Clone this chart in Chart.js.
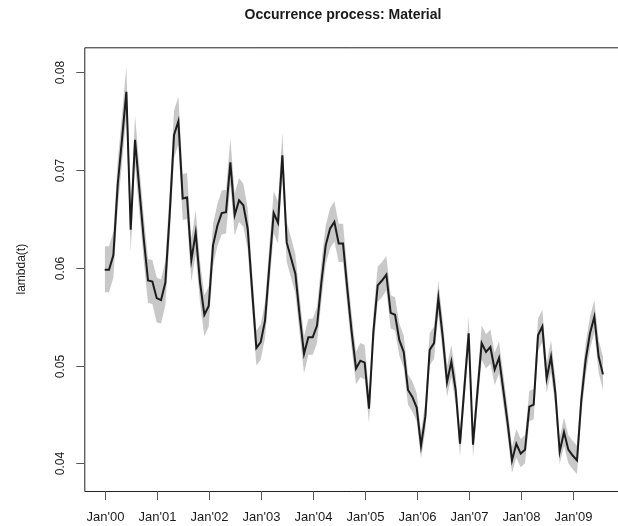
<!DOCTYPE html>
<html>
<head>
<meta charset="utf-8">
<script src="https://cdn.jsdelivr.net/npm/chart.js@4"></script>
<style>
  html, body { margin: 0; padding: 0; background: #fff; overflow: hidden; }
  #wrap { width: 618px; height: 526px; }
</style>
</head>
<body>
<div id="wrap"><canvas id="chart" width="618" height="526"></canvas></div>
<script>
// monthly intensity estimate, Jan 2000 .. Aug 2009
const lambdaMean = [
  0.0598, 0.0598, 0.0613, 0.0685, 0.0732, 0.0780, 0.0639, 0.0731, 0.0680, 0.0630, 0.0587, 0.0586,
  0.0569, 0.0567, 0.0585, 0.0655, 0.0736, 0.0750, 0.0671, 0.0672, 0.0608, 0.0636, 0.0585, 0.0552,
  0.0561, 0.0623, 0.0643, 0.0656, 0.0657, 0.0708, 0.0654, 0.0669, 0.0664, 0.0640, 0.0578, 0.0518,
  0.0524, 0.0546, 0.0602, 0.0656, 0.0646, 0.0715, 0.0626, 0.0610, 0.0594, 0.0551, 0.0512, 0.0529,
  0.0529, 0.0541, 0.0585, 0.0623, 0.0640, 0.0647, 0.0625, 0.0625, 0.0578, 0.0534, 0.0497, 0.0505,
  0.0503, 0.0456, 0.0534, 0.0582, 0.0587, 0.0593, 0.0554, 0.0552, 0.0526, 0.0514, 0.0475, 0.0468,
  0.0457, 0.0418, 0.0448, 0.0516, 0.0523, 0.0569, 0.0530, 0.0483, 0.0504, 0.0475, 0.0420, 0.0477,
  0.0533, 0.0419, 0.0472, 0.0523, 0.0514, 0.0519, 0.0496, 0.0508, 0.0475, 0.0441, 0.0403, 0.0420,
  0.0410, 0.0414, 0.0458, 0.0460, 0.0531, 0.0540, 0.0487, 0.0509, 0.0472, 0.0412, 0.0432, 0.0414,
  0.0408, 0.0403, 0.0465, 0.0506, 0.0533, 0.0550, 0.0509, 0.0491
];

// pointwise band around the estimate
const lambdaUpper = [
  0.0622, 0.0622, 0.0637, 0.0709, 0.0757, 0.0806, 0.0661, 0.0756, 0.0704, 0.0653, 0.0609, 0.0608,
  0.0590, 0.0588, 0.0607, 0.0679, 0.0761, 0.0775, 0.0696, 0.0697, 0.0630, 0.0659, 0.0606, 0.0572,
  0.0581, 0.0645, 0.0665, 0.0679, 0.0680, 0.0732, 0.0676, 0.0692, 0.0686, 0.0661, 0.0598, 0.0536,
  0.0542, 0.0565, 0.0623, 0.0678, 0.0668, 0.0738, 0.0647, 0.0631, 0.0614, 0.0570, 0.0530, 0.0548,
  0.0548, 0.0560, 0.0605, 0.0643, 0.0661, 0.0668, 0.0645, 0.0645, 0.0597, 0.0552, 0.0514, 0.0523,
  0.0521, 0.0472, 0.0552, 0.0601, 0.0606, 0.0612, 0.0572, 0.0570, 0.0543, 0.0531, 0.0491, 0.0484,
  0.0472, 0.0432, 0.0463, 0.0533, 0.0540, 0.0587, 0.0547, 0.0499, 0.0521, 0.0491, 0.0434, 0.0493,
  0.0550, 0.0433, 0.0488, 0.0541, 0.0532, 0.0537, 0.0513, 0.0525, 0.0491, 0.0456, 0.0417, 0.0435,
  0.0425, 0.0429, 0.0474, 0.0476, 0.0548, 0.0557, 0.0503, 0.0526, 0.0488, 0.0426, 0.0447, 0.0429,
  0.0423, 0.0418, 0.0481, 0.0523, 0.0550, 0.0567, 0.0526, 0.0509
];

const lambdaLower = [
  0.0575, 0.0575, 0.0590, 0.0661, 0.0707, 0.0754, 0.0616, 0.0706, 0.0656, 0.0607, 0.0564, 0.0563,
  0.0544, 0.0543, 0.0562, 0.0631, 0.0712, 0.0726, 0.0649, 0.0650, 0.0586, 0.0614, 0.0564, 0.0530,
  0.0540, 0.0602, 0.0622, 0.0634, 0.0635, 0.0685, 0.0633, 0.0647, 0.0642, 0.0619, 0.0559, 0.0500,
  0.0506, 0.0528, 0.0582, 0.0635, 0.0625, 0.0693, 0.0606, 0.0590, 0.0574, 0.0532, 0.0492, 0.0511,
  0.0511, 0.0523, 0.0566, 0.0604, 0.0620, 0.0627, 0.0606, 0.0606, 0.0560, 0.0517, 0.0481, 0.0488,
  0.0486, 0.0441, 0.0517, 0.0565, 0.0570, 0.0577, 0.0538, 0.0536, 0.0510, 0.0498, 0.0460, 0.0453,
  0.0443, 0.0405, 0.0434, 0.0500, 0.0507, 0.0552, 0.0514, 0.0468, 0.0488, 0.0460, 0.0407, 0.0462,
  0.0517, 0.0406, 0.0457, 0.0506, 0.0497, 0.0502, 0.0480, 0.0492, 0.0460, 0.0427, 0.0390, 0.0406,
  0.0396, 0.0400, 0.0443, 0.0445, 0.0515, 0.0524, 0.0472, 0.0493, 0.0457, 0.0399, 0.0418, 0.0400,
  0.0394, 0.0389, 0.0450, 0.0490, 0.0517, 0.0534, 0.0493, 0.0475
];

const tickMonths = [0, 12, 24, 36, 48, 60, 72, 84, 96, 108];
const tickLabels = ["Jan'00", "Jan'01", "Jan'02", "Jan'03", "Jan'04", "Jan'05", "Jan'06", "Jan'07", "Jan'08", "Jan'09"];
const yTicks = [0.04, 0.05, 0.06, 0.07, 0.08];

const FONT = '"Liberation Sans", Arial, Helvetica, sans-serif';

function toPoints(arr) {
  return arr.map((v, i) => ({ x: i, y: v }));
}

// R-style frame: box, outside ticks, rotated y labels, titles
const rAxes = {
  id: 'rAxes',
  afterDraw(chart) {
    const { ctx, chartArea: a, scales } = chart;
    const xs = scales.x, ys = scales.y;
    ctx.save();

    ctx.strokeStyle = '#222';
    ctx.lineWidth = 1;
    ctx.beginPath();
    ctx.moveTo(a.right + 10, a.top + 0.5);
    ctx.lineTo(a.left + 0.5, a.top + 0.5);
    ctx.lineTo(a.left + 0.5, a.bottom + 0.5);
    ctx.lineTo(a.right + 10, a.bottom + 0.5);
    ctx.stroke();

    ctx.fillStyle = '#1a1a1a';

    // x axis
    ctx.font = '13px ' + FONT;
    ctx.textAlign = 'center';
    ctx.textBaseline = 'middle';
    tickMonths.forEach((m, k) => {
      const px = Math.round(xs.getPixelForValue(m)) + 0.5;
      ctx.strokeStyle = '#555';
      ctx.beginPath();
      ctx.moveTo(px, a.bottom);
      ctx.lineTo(px, a.bottom + 9);
      ctx.stroke();
      ctx.fillText(tickLabels[k], px, a.bottom + 26);
    });

    // y axis
    ctx.font = '12px ' + FONT;
    yTicks.forEach(v => {
      const py = Math.round(ys.getPixelForValue(v)) + 0.5;
      ctx.strokeStyle = '#555';
      ctx.beginPath();
      ctx.moveTo(a.left, py);
      ctx.lineTo(a.left - 8, py);
      ctx.stroke();
      ctx.save();
      ctx.translate(a.left - 23.5, py);
      ctx.rotate(-Math.PI / 2);
      ctx.fillText(v.toFixed(2), 0, 0);
      ctx.restore();
    });

    ctx.save();
    ctx.translate(22, (a.top + a.bottom) / 2);
    ctx.rotate(-Math.PI / 2);
    ctx.fillText('lambda(t)', 0, 0);
    ctx.restore();

    ctx.font = 'bold 14px ' + FONT;
    ctx.fillText('Occurrence process: Material', 343, 15);

    ctx.restore();
  }
};

new Chart(document.getElementById('chart'), {
  type: 'line',
  data: {
    datasets: [
      {
        label: 'upper',
        data: toPoints(lambdaUpper),
        borderWidth: 0,
        pointRadius: 0,
        backgroundColor: '#c8c8c8',
        fill: '+1',
        order: 2
      },
      {
        label: 'lower',
        data: toPoints(lambdaLower),
        borderWidth: 0,
        pointRadius: 0,
        fill: false,
        order: 2
      },
      {
        label: 'lambda(t)',
        data: toPoints(lambdaMean),
        borderColor: '#1c1c1c',
        borderWidth: 2,
        pointRadius: 0,
        fill: false,
        order: 1
      }
    ]
  },
  options: {
    responsive: false,
    animation: false,
    devicePixelRatio: 1,
    layout: { padding: { left: 84.3, top: 47.3, bottom: 35, right: 0 } },
    plugins: {
      legend: { display: false },
      tooltip: { enabled: false },
      title: { display: false }
    },
    elements: { line: { tension: 0, borderJoinStyle: 'miter' } },
    scales: {
      x: { type: 'linear', display: false, min: -4.71, max: 118.46 },
      y: { type: 'linear', display: false, min: 0.03717, max: 0.08256 }
    }
  },
  plugins: [rAxes]
});
</script>
</body>
</html>
